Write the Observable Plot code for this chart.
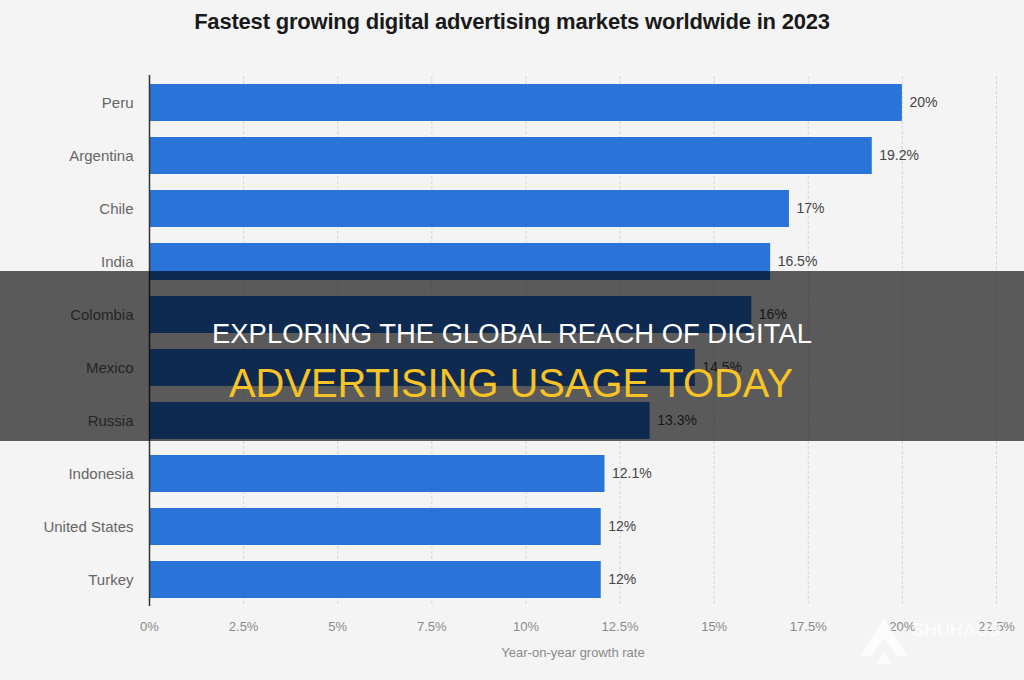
<!DOCTYPE html>
<html>
<head>
<meta charset="utf-8">
<script src="https://cdn.jsdelivr.net/npm/d3@7"></script>
<script src="https://cdn.jsdelivr.net/npm/@observablehq/plot@0.6"></script>
<style>
  html, body { margin: 0; padding: 0; background: #f4f4f4; }
  body { width: 1024px; height: 680px; position: relative; overflow: hidden; font-family: "Liberation Sans", Arial, sans-serif; }
  #title { position: absolute; top: 0; left: 0; width: 1024px; height: 44px; line-height: 44px; text-align: center;
           font-weight: bold; font-size: 22px; color: #1a1a1a; letter-spacing: -0.2px; }
  #chart { position: absolute; top: 44px; left: 0; }
  #banner { position: absolute; left: 0; top: 271px; width: 1024px; height: 170px; background: rgba(0,0,0,0.63); }
  #banner svg, #mark svg { display: block; }
  #mark { position: absolute; left: 850px; top: 608px; width: 174px; height: 64px; }
</style>
</head>
<body>
<div id="title">Fastest growing digital advertising markets worldwide in 2023</div>
<div id="chart"></div>
<div id="banner">
  <svg width="1024" height="170">
    <text x="212" y="72" textLength="600" lengthAdjust="spacingAndGlyphs" fill="#ffffff"
          font-family="Liberation Sans, Arial, sans-serif" font-size="27">EXPLORING THE GLOBAL REACH OF DIGITAL</text>
    <text x="229" y="126" textLength="564" lengthAdjust="spacingAndGlyphs" fill="#f7c325"
          font-family="Liberation Sans, Arial, sans-serif" font-size="40">ADVERTISING USAGE TODAY</text>
  </svg>
</div>
<div id="mark">
  <svg width="174" height="64">
    <path d="M10 48 L34 10 L58 48 L46 48 L34 30 L22 48 Z" fill="#ffffff" opacity="0.75"/>
    <path d="M26 56 L34 44 L42 56 Z" fill="#ffffff" opacity="0.75"/>
    <text x="62" y="28" fill="#ffffff" opacity="0.7" font-family="Liberation Sans, Arial, sans-serif"
          font-size="18" font-weight="bold">SHUHAUS</text>
  </svg>
</div>
<script>
// Year-on-year growth of digital ad spending, 2023 (%)
const countries = ["Peru", "Argentina", "Chile", "India", "Colombia", "Mexico", "Russia", "Indonesia", "United States", "Turkey"];
const growth = [20, 19.2, 17, 16.5, 16, 14.5, 13.3, 12.1, 12, 12];
const growthLabels = ["20%", "19.2%", "17%", "16.5%", "16%", "14.5%", "13.3%", "12.1%", "12%", "12%"];
const xTicks = [0, 2.5, 5, 7.5, 10, 12.5, 15, 17.5, 20, 22.5];

const rows = countries.map((c, i) => ({country: c, value: growth[i], label: growthLabels[i]}));

const chart = Plot.plot({
  width: 1024,
  height: 636,
  marginTop: 32,
  marginBottom: 74,
  marginLeft: 149,
  marginRight: 28,
  style: {background: "transparent", fontFamily: "Liberation Sans, Arial, sans-serif"},
  x: {domain: [0, 22.5]},
  y: {domain: countries, paddingInner: 0.3, paddingOuter: 0.15},
  marks: [
    Plot.gridX(xTicks, {stroke: "#d6d6d6", strokeOpacity: 1, strokeDasharray: "3,2"}),
    Plot.barX(rows, {y: "country", x: "value", fill: "#2a73d9"}),
    Plot.text(rows, {y: "country", x: "value", text: "label", textAnchor: "start", dx: 7,
                     fill: "#444", fontSize: 14}),
    Plot.axisY({tickSize: 0, tickPadding: 16, fontSize: 15, color: "#666", label: null}),
    Plot.axisX({ticks: xTicks, tickSize: 0, tickPadding: 15, fontSize: 13, color: "#8a8a8a",
                tickFormat: d => d + "%", label: "Year-on-year growth rate", labelAnchor: "center",
                labelArrow: "none", labelOffset: 50}),
    Plot.ruleX([0], {stroke: "#333", strokeWidth: 1.5, insetTop: -1})
  ]
});
document.getElementById("chart").appendChild(chart);
</script>
</body>
</html>
